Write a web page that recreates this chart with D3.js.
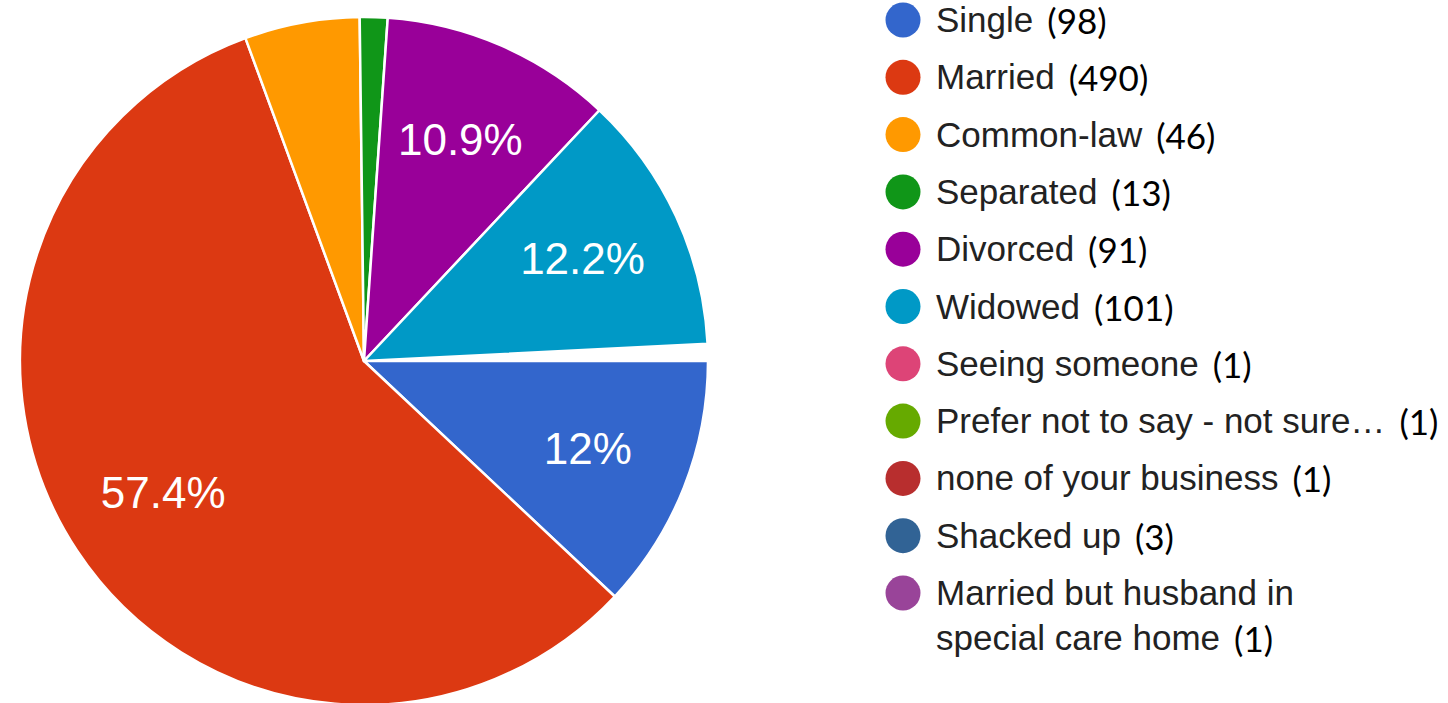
<!DOCTYPE html>
<html>
<head>
<meta charset="utf-8">
<script src="https://cdn.jsdelivr.net/npm/d3@7"></script>
<style>
  html, body { margin: 0; padding: 0; background: #fff; overflow: hidden; }
  svg { display: block; }
</style>
</head>
<body>
<svg id="chart" width="1448" height="703"></svg>
<script>
// Marital status responses
const categories = [
  "Single",
  "Married",
  "Common-law",
  "Separated",
  "Divorced",
  "Widowed",
  "Seeing someone",
  "Prefer not to say - not sure…",
  "none of your business",
  "Shacked up",
  "Married but husband in\nspecial care home"
];
const responseCounts = [98, 490, 46, 13, 91, 101, 1, 1, 1, 3, 1];
const slicePercents = [12, 57.4, 5.4, 1.3, 10.9, 12.2, 0.1, 0.1, 0.1, 0.4, 0.1];
const sliceColors = [
  "#3366cc", "#dc3912", "#ff9900", "#109618", "#990099", "#0099c6",
  "#dd4477", "#66aa00", "#b82e2e", "#316395", "#994499"
];

// Slices under this share are left unpainted; labels only on large slices
const sliceVisibilityThreshold = 0.5;
const labelThreshold = 8;

const W = 1448, H = 703;
const cx = 364, cy = 361, R = 344;

const svg = d3.select("#chart");

const rows = categories.map((c, i) => ({
  name: c,
  count: responseCounts[i],
  pct: slicePercents[i],
  color: sliceColors[i]
}));

const pie = d3.pie()
  .value(d => d.pct)
  .sort(null)
  .startAngle(Math.PI / 2)
  .endAngle(Math.PI / 2 + 2 * Math.PI);

const arcs = pie(rows);
const arc = d3.arc().innerRadius(0).outerRadius(R);
const labelArc = d3.arc().innerRadius(R * 0.7).outerRadius(R * 0.7);

const g = svg.append("g").attr("transform", `translate(${cx},${cy})`);

g.selectAll("path.slice")
  .data(arcs.filter(a => a.data.pct >= sliceVisibilityThreshold))
  .join("path")
  .attr("class", "slice")
  .attr("d", arc)
  .attr("fill", a => a.data.color)
  .attr("stroke", "#fff")
  .attr("stroke-width", 2.5)
  .attr("stroke-linejoin", "round");

const labelSize = 44;
g.selectAll("text.pct")
  .data(arcs.filter(a => a.data.pct >= labelThreshold))
  .join("text")
  .attr("class", "pct")
  .attr("x", a => labelArc.centroid(a)[0])
  .attr("y", a => labelArc.centroid(a)[1] + labelSize * 0.33)
  .attr("text-anchor", "middle")
  .attr("font-family", "'Liberation Sans', Arimo, Arial, sans-serif")
  .attr("font-size", labelSize)
  .attr("fill", "#fff")
  .text(a => a.data.pct + "%");

// Legend
const legendX = 903, legendTextX = 936, legendTop = 20, rowStep = 57.3, lineStep = 45;
const legend = svg.append("g");

rows.forEach((d, i) => {
  const y = legendTop + i * rowStep;
  legend.append("circle")
    .attr("cx", legendX)
    .attr("cy", y)
    .attr("r", 17.5)
    .attr("fill", d.color);

  const lines = d.name.split("\n");
  let lastNode = null, lastY = y;
  lines.forEach((ln, j) => {
    lastY = y + j * lineStep;
    lastNode = legend.append("text")
      .attr("x", legendTextX)
      .attr("y", lastY + 12)
      .attr("font-family", "'Liberation Sans', Arimo, Arial, sans-serif")
      .attr("font-size", 35)
      .attr("fill", "#222")
      .text(ln);
  });
  const endX = legendTextX + lastNode.node().getComputedTextLength();
  legend.append("text")
    .attr("x", endX + 14)
    .attr("y", lastY + 14)
    .attr("font-family", "Lato, 'Open Sans', sans-serif")
    .attr("font-size", 35)
    .attr("fill", "#000")
    .text(`(${d.count})`);
});
</script>
</body>
</html>
